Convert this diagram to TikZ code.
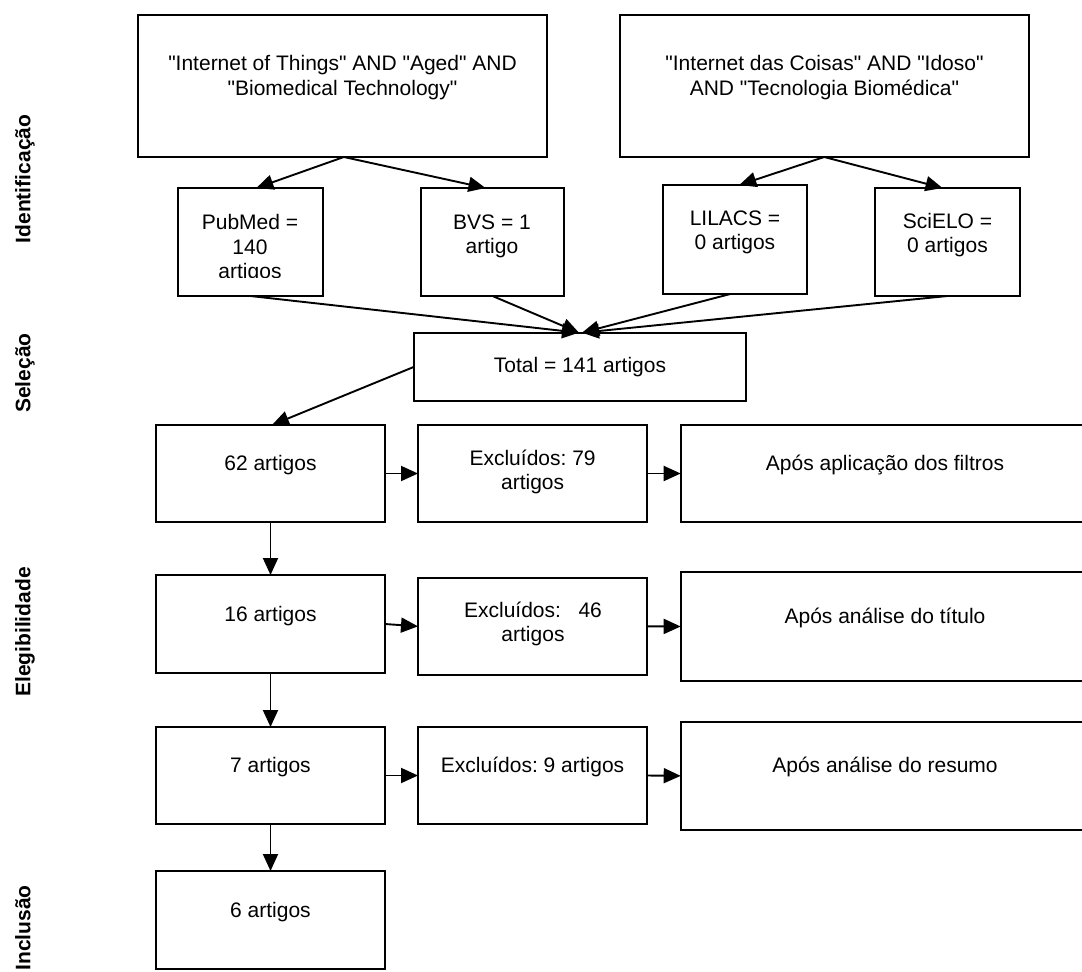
\documentclass[tikz,border=0pt]{standalone}
\usepackage{fontspec}
\setmainfont{Liberation Sans}[Ligatures=TeXOff]
\usetikzlibrary{arrows.meta,fit}
\frenchspacing
\begin{document}
\begin{tikzpicture}[x=1pt,y=1pt,
  box/.style={draw=black, line width=2pt, inner sep=0pt, outer sep=0pt, rectangle},
  txt/.style={anchor=base, align=center, inner sep=0pt, font=\fontsize{21}{24.5}\selectfont},
  lbl/.style={anchor=base, rotate=90, inner sep=0pt, font=\fontsize{21}{24.5}\selectfont\bfseries},
  arr/.style={line width=1.9pt, -{Triangle[length=17pt,width=15pt]}}]
\useasboundingbox (0,0) rectangle (1082,-972);
\clip (0,0) rectangle (1082,-972);

% side labels
\node[lbl] (lid) at (30.5,-179) {Identificação};
\node[lbl] (lsel) at (30.5,-373) {Seleção};
\node[lbl] (leg) at (30.5,-632) {Elegibilidade};
\node[lbl] (linc) at (30.5,-928) {Inclusão};

% top query boxes
\node[box, fit={(137.7,-15) (547,-157)}] (tl) {};
\node[txt] (tlt) at (342.5,-95) {"Internet of Things" AND "Aged" AND\\"Biomedical Technology"};
\node[box, fit={(619.5,-15) (1029,-157)}] (tr) {};
\node[txt] (trt) at (824.5,-95) {"Internet das Coisas" AND "Idoso"\\AND "Tecnologia Biomédica"};

% database boxes
\node[box, fit={(178,-188) (322.7,-296)}] (pub) {};
\begin{scope}
  \clip (178,-188) rectangle (322.7,-277);
  \node[txt] (pubt) at (250,-278.5) {PubMed =\\140\\artigos};
\end{scope}
\node[box, fit={(420.8,-188) (564.2,-296)}] (bvs) {};
\node[txt] (bvst) at (492,-253.5) {BVS = 1\\artigo};
\node[box, fit={(663.4,-185) (807.2,-294)}] (lil) {};
\node[txt] (lilt) at (735,-249.5) {LILACS =\\0 artigos};
\node[box, fit={(875.3,-188) (1019.8,-296)}] (sci) {};
\node[txt] (scit) at (947.5,-252.5) {SciELO =\\0 artigos};

% total
\node[box, fit={(414,-332.7) (746,-401)}] (tot) {};
\node[txt] (tott) at (580,-372) {Total = 141 artigos};

% row 1
\node[box, fit={(156,-425) (385,-522)}] (c62) {};
\node[txt] (c62t) at (270.5,-470.5) {62 artigos};
\node[box, fit={(418,-425) (647,-522)}] (ex79) {};
\node[txt] (ex79t) at (532.6,-489.5) {Excluídos: 79\\artigos};
\node[box, fit={(680.7,-425) (1089,-522)}] (ap1) {};
\node[txt] (ap1t) at (885,-470.5) {Após aplicação dos filtros};

% row 2
\node[box, fit={(156,-575) (385,-673)}] (c16) {};
\node[txt] (c16t) at (270.5,-621.5) {16 artigos};
\node[box, fit={(418,-577.7) (647,-675)}] (ex46) {};
\node[txt] (ex46t) at (533,-641.5) {Excluídos:\ \ \ 46\\artigos};
\node[box, fit={(680.7,-572.3) (1089,-680.7)}] (ap2) {};
\node[txt] (ap2t) at (885,-623) {Após análise do título};

% row 3
\node[box, fit={(156,-727) (385,-824)}] (c7) {};
\node[txt] (c7t) at (270.5,-772.5) {7 artigos};
\node[box, fit={(418,-727) (647,-824)}] (ex9) {};
\node[txt] (ex9t) at (532.6,-772.5) {Excluídos: 9 artigos};
\node[box, fit={(680.7,-721.7) (1089,-830)}] (ap3) {};
\node[txt] (ap3t) at (885,-772.5) {Após análise do resumo};

% row 4
\node[box, fit={(156,-871) (385,-969)}] (c6) {};
\node[txt] (c6t) at (270.5,-917.5) {6 artigos};

% connectors
\draw[arr] ([xshift=1.5pt]tl.south) -- ([xshift=6pt]pub.north);
\draw[arr] ([xshift=1.5pt]tl.south) -- ([xshift=-7pt]bvs.north);
\draw[arr] (tr.south) -- ([xshift=4pt]lil.north);
\draw[arr] (tr.south) -- ([xshift=-5pt]sci.north);

\draw[arr] (pub.south) -- ([xshift=-1pt]tot.north);
\draw[arr] (bvs.south) -- ([xshift=-1pt]tot.north);
\draw[arr] ([xshift=-5pt]lil.south) -- ([xshift=2pt]tot.north);
\draw[arr] (sci.south) -- ([xshift=2pt]tot.north);

\draw[arr] (tot.west) -- ([xshift=1.5pt]c62.north);

\draw[arr] (c62.east) -- (ex79.west);
\draw[arr] (ex79.east) -- (ap1.west);
\draw[arr] (c62.south) -- (c16.north);
\draw[arr] (c16.east) -- (ex46.west);
\draw[arr] (ex46.east) -- (ap2.west);
\draw[arr] (c16.south) -- (c7.north);
\draw[arr] (c7.east) -- (ex9.west);
\draw[arr] (ex9.east) -- (ap3.west);
\draw[arr] (c7.south) -- (c6.north);
\end{tikzpicture}
\end{document}
